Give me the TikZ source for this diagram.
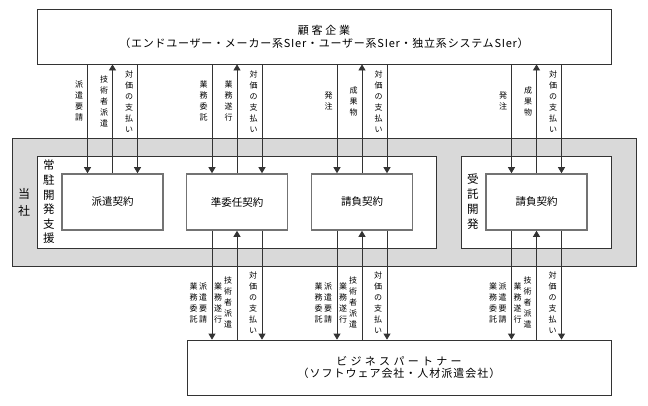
\documentclass[tikz,border=0pt]{standalone}
\usepackage{fontspec}
\setmainfont{Noto Sans CJK JP}
\usetikzlibrary{arrows.meta,positioning,calc}
\definecolor{waku}{HTML}{333333}
\definecolor{hai}{HTML}{D9D9D9}
\tikzstyle{box}=[rectangle, draw=waku, fill=white, line width=0.8pt, align=center, inner sep=0pt]
\tikzstyle{keiyaku}=[box, draw=black!55, line width=1.6pt, minimum width=101pt, minimum height=56pt, font=\fontsize{10.5}{12}\selectfont]
\tikzstyle{tatelbl}=[inner xsep=0.5pt, inner ysep=0pt, font=\fontsize{8}{11}\selectfont]
\tikzstyle{ya}=[draw=waku, line width=0.8pt]
\makeatletter
\newcommand{\tate}[1]{\vbox{\@tfor\tate@c:=#1\do{\hbox to 1em{\hss\tate@c\hss}}}}
\makeatother

\begin{document}
\begin{tikzpicture}[x=1pt, y=-1pt, >={Triangle[width=7pt,length=6pt]}]
\useasboundingbox (0,0) rectangle (648,405);
% outer parties
\node[box, minimum width=574pt, minimum height=55pt, font=\fontsize{11}{13}\selectfont] (kokyaku) at (324,36.5)
  {{\addfontfeature{LetterSpace=25}顧客企業}\\{\addfontfeature{LetterSpace=7}（エンドユーザー・メーカー系SIer・ユーザー系SIer・独立系システムSIer）}};
\node[box, minimum width=424pt, minimum height=55pt, font=\fontsize{11}{12}\selectfont] (partner) at (399,367.5)
  {{\addfontfeature{LetterSpace=30}ビジネスパートナー}\\{\addfontfeature{LetterSpace=9}（ソフトウェア会社・人材派遣会社）}};
% our company
\node[box, fill=hai, minimum width=624pt, minimum height=128pt] (tousha) at (324,202) {};
\node[box, minimum width=399pt, minimum height=92pt] (joutyu) at (236.5,202) {};
\node[box, minimum width=150pt, minimum height=92pt] (jutaku) at (536,202) {};
\node[keiyaku] (haken) at (112.5,202) {派遣契約};
\node[keiyaku] (junin) at (237,202) {準委任契約};
\node[keiyaku] (ukeoi) at (362,202) {請負契約};
\node[keiyaku] (ukeoiB) at (536.5,202) {請負契約};
\node[font=\fontsize{12}{17}\selectfont] (touLbl) at ($(tousha.west)!.5!(joutyu.west)$) {\tate{当社}};
\node[font=\fontsize{11.5}{14.6}\selectfont] (joutyuLbl) at ($(joutyu.west)!.5!(haken.west)$) {\tate{常駐開発支援}};
\node[font=\fontsize{11.5}{15}\selectfont] (jutakuLbl) at ($(jutaku.west)!.5!(ukeoiB.west)$) {\tate{受託開発}};

% customer side
\draw[ya,->] ($(haken.north |- kokyaku.south)+(-25,0)$) -- ($(haken.north)+(-25,0)$) node[tatelbl, pos=.34, left=3.5pt] {\tate{派遣要請}};
\draw[ya,<-] (haken.north |- kokyaku.south) -- (haken.north) node[tatelbl, pos=.34, left=3.5pt] {\tate{技術者派遣}};
\draw[ya,->] ($(haken.north |- kokyaku.south)+(25,0)$) -- ($(haken.north)+(25,0)$) node[tatelbl, pos=.34, left=3.5pt] {\tate{対価の支払い}};
\draw[ya,->] ($(junin.north |- kokyaku.south)+(-25,0)$) -- ($(junin.north)+(-25,0)$) node[tatelbl, pos=.34, left=3.5pt] {\tate{業務委託}};
\draw[ya,<-] (junin.north |- kokyaku.south) -- (junin.north) node[tatelbl, pos=.34, left=3.5pt] {\tate{業務遂行}};
\draw[ya,->] ($(junin.north |- kokyaku.south)+(25,0)$) -- ($(junin.north)+(25,0)$) node[tatelbl, pos=.34, left=3.5pt] {\tate{対価の支払い}};
\draw[ya,->] ($(ukeoi.north |- kokyaku.south)+(-25,0)$) -- ($(ukeoi.north)+(-25,0)$) node[tatelbl, pos=.34, left=3.5pt] {\tate{発注}};
\draw[ya,<-] (ukeoi.north |- kokyaku.south) -- (ukeoi.north) node[tatelbl, pos=.34, left=3.5pt] {\tate{成果物}};
\draw[ya,->] ($(ukeoi.north |- kokyaku.south)+(25,0)$) -- ($(ukeoi.north)+(25,0)$) node[tatelbl, pos=.34, left=3.5pt] {\tate{対価の支払い}};
\draw[ya,->] ($(ukeoiB.north |- kokyaku.south)+(-25,0)$) -- ($(ukeoiB.north)+(-25,0)$) node[tatelbl, pos=.34, left=3.5pt] {\tate{発注}};
\draw[ya,<-] (ukeoiB.north |- kokyaku.south) -- (ukeoiB.north) node[tatelbl, pos=.34, left=3.5pt] {\tate{成果物}};
\draw[ya,->] ($(ukeoiB.north |- kokyaku.south)+(25,0)$) -- ($(ukeoiB.north)+(25,0)$) node[tatelbl, pos=.34, left=3.5pt] {\tate{対価の支払い}};

% partner side
\draw[ya,->] ($(junin.south)+(-25,0)$) -- ($(junin.south |- partner.north)+(-25,0)$) node[tatelbl, pos=.66, left=4pt] (jA) {\tate{派遣要請}};
\node[tatelbl, left=0pt of jA] {\tate{業務委託}};
\draw[ya,<-] (junin.south) -- (junin.south |- partner.north) node[tatelbl, pos=.66, left=4pt] (jB) {\tate{技術者派遣}};
\node[tatelbl, left=0.5pt of jB] {\tate{業務遂行}};
\draw[ya,->] ($(junin.south)+(25,0)$) -- ($(junin.south |- partner.north)+(25,0)$) node[tatelbl, pos=.66, left=4pt] {\tate{対価の支払い}};
\draw[ya,->] ($(ukeoi.south)+(-25,0)$) -- ($(ukeoi.south |- partner.north)+(-25,0)$) node[tatelbl, pos=.66, left=4pt] (uA) {\tate{派遣要請}};
\node[tatelbl, left=0pt of uA] {\tate{業務委託}};
\draw[ya,<-] (ukeoi.south) -- (ukeoi.south |- partner.north) node[tatelbl, pos=.66, left=4pt] (uB) {\tate{技術者派遣}};
\node[tatelbl, left=0.5pt of uB] {\tate{業務遂行}};
\draw[ya,->] ($(ukeoi.south)+(25,0)$) -- ($(ukeoi.south |- partner.north)+(25,0)$) node[tatelbl, pos=.66, left=4pt] {\tate{対価の支払い}};
\draw[ya,->] ($(ukeoiB.south)+(-25,0)$) -- ($(ukeoiB.south |- partner.north)+(-25,0)$) node[tatelbl, pos=.66, left=4pt] (bA) {\tate{派遣要請}};
\node[tatelbl, left=0pt of bA] {\tate{業務委託}};
\draw[ya,<-] (ukeoiB.south) -- (ukeoiB.south |- partner.north) node[tatelbl, pos=.66, left=4pt] (bB) {\tate{技術者派遣}};
\node[tatelbl, left=0.5pt of bB] {\tate{業務遂行}};
\draw[ya,->] ($(ukeoiB.south)+(25,0)$) -- ($(ukeoiB.south |- partner.north)+(25,0)$) node[tatelbl, pos=.66, left=4pt] {\tate{対価の支払い}};
\end{tikzpicture}
\end{document}
